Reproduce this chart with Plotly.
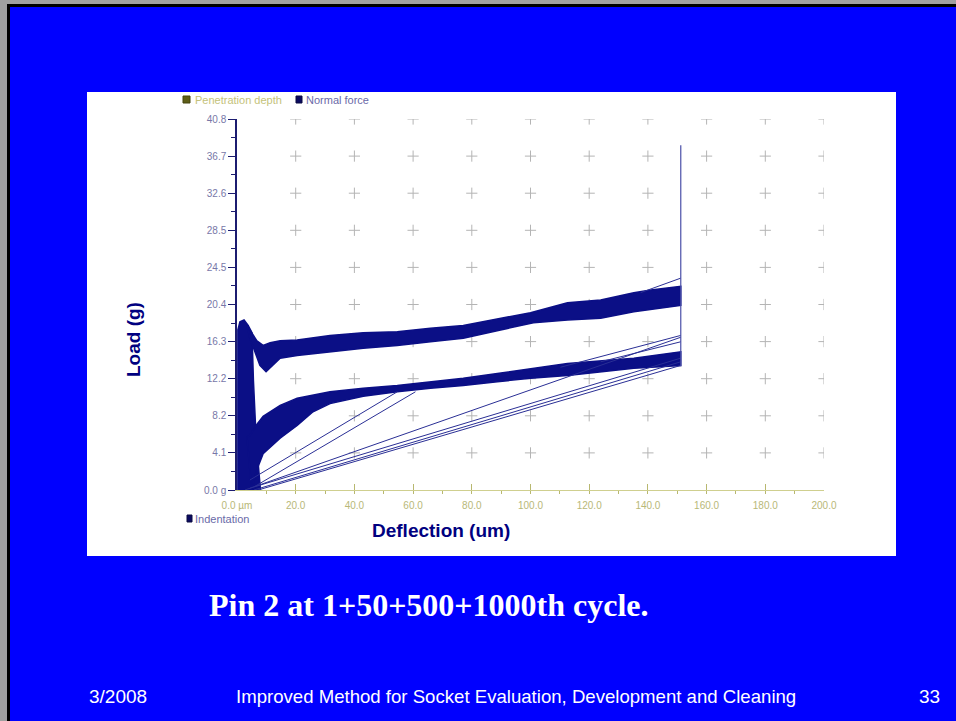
import plotly.graph_objects as go

# ---------------- data ----------------
x_tick_vals = [0, 20, 40, 60, 80, 100, 120, 140, 160, 180, 200]
x_tick_text = ["0.0 µm", "20.0", "40.0", "60.0", "80.0", "100.0", "120.0", "140.0", "160.0", "180.0", "200.0"]
y_tick_vals = [0, 4.08, 8.16, 12.24, 16.32, 20.4, 24.48, 28.56, 32.64, 36.72, 40.8]
y_tick_text = ["0.0 g", "4.1", "8.2", "12.2", "16.3", "20.4", "24.5", "28.5", "32.6", "36.7", "40.8"]

grid_x = [20, 40, 60, 80, 100, 120, 140, 160, 180, 200]
grid_y = [4.08, 8.16, 12.24, 16.32, 20.4, 24.48, 28.56, 32.64, 36.72, 40.8]

# initial contact column (dense vertical strokes near zero deflection)
contact_x = [0.3, 0.3, 1.0, 2.4, 3.8, 5.1, 5.6, 6.4, 7.2, 8.0]
contact_y = [0.0, 17.6, 18.5, 18.7, 18.1, 17.3, 12.0, 6.5, 3.0, 0.0]

# upper (loading) band: top and bottom envelopes
upper_top_x = [3.4, 5.1, 6.8, 8.9, 11.3, 14.7, 20.5, 31.7, 43.0, 54.6, 65.9, 77.1, 88.7, 100.0, 112.6, 123.9, 135.2, 141.0, 151.2]
upper_top_y = [18.1, 17.3, 16.4, 15.9, 16.2, 16.4, 16.5, 17.0, 17.3, 17.4, 17.8, 18.1, 18.8, 19.5, 20.6, 20.9, 21.7, 22.0, 22.4]
upper_bot_x = [151.2, 135.2, 123.9, 112.6, 101.0, 89.8, 77.1, 65.9, 54.6, 43.0, 31.7, 20.5, 14.7, 11.3, 9.9, 7.8, 5.8, 4.4]
upper_bot_y = [20.3, 19.6, 18.9, 18.7, 18.4, 17.6, 16.7, 16.3, 15.9, 15.6, 15.2, 14.8, 14.5, 13.4, 13.0, 13.7, 15.4, 16.7]

# middle (unloading) band
mid_top_x = [3.4, 4.4, 6.5, 8.9, 14.7, 20.5, 31.7, 43.0, 54.6, 65.9, 77.1, 88.7, 100.0, 112.6, 135.2, 151.2]
mid_top_y = [5.8, 6.0, 7.1, 8.1, 9.3, 10.1, 10.8, 11.2, 11.5, 11.9, 12.3, 12.8, 13.3, 13.9, 14.5, 15.2]
mid_bot_x = [151.2, 135.2, 112.6, 100.0, 88.7, 77.1, 65.9, 54.6, 43.0, 31.7, 25.9, 20.5, 14.7, 8.9, 6.5, 5.0]
mid_bot_y = [13.7, 13.4, 12.6, 12.3, 11.9, 11.5, 11.2, 10.8, 10.3, 9.5, 8.6, 7.1, 5.7, 4.0, 2.0, 0.0]

# single straight strokes (start x, start y, end x, end y)
stroke_x0 = [4.4, 6.1, 2.7, 4.4, 5.8, 7.2, 110.2, 123.9, 137.5]
stroke_y0 = [1.1, 0.4, 0.0, 0.2, 0.0, 0.0, 13.5, 14.1, 21.7]
stroke_x1 = [54.6, 60.8, 151.2, 151.2, 151.2, 151.2, 151.2, 151.2, 151.2]
stroke_y1 = [10.8, 10.8, 16.8, 14.5, 14.1, 13.7, 17.0, 16.3, 23.3]

# vertical release line at end of stroke
release_x = [151.2, 151.2]
release_y = [13.6, 37.9]

# ---------------- layout geometry ----------------
L, R, T, B = 237, 824, 119, 490
W, H = 956, 721
PW, PH = R - L, B - T


def fx(px):
    return (px - L) / PW


def fy(py):
    return (B - py) / PH


NAVY = "#0b0f86"
fig = go.Figure()

# grid crosses
gx, gy = [], []
for xv in grid_x:
    for yv in grid_y:
        gx.append(xv)
        gy.append(yv)
fig.add_trace(go.Scatter(x=gx, y=gy, mode="markers",
                         marker=dict(symbol="cross-thin", size=8,
                                     line=dict(color="#b4b4b4", width=1)),
                         hoverinfo="skip", showlegend=False))

fill_kw = dict(mode="lines", fill="toself", fillcolor=NAVY,
               line=dict(color=NAVY, width=1.5), showlegend=False, hoverinfo="skip")
fig.add_trace(go.Scatter(x=contact_x + [contact_x[0]], y=contact_y + [contact_y[0]], **fill_kw))
fig.add_trace(go.Scatter(x=upper_top_x + upper_bot_x + [upper_top_x[0]],
                         y=upper_top_y + upper_bot_y + [upper_top_y[0]], **fill_kw))
fig.add_trace(go.Scatter(x=mid_top_x + mid_bot_x + [mid_top_x[0]],
                         y=mid_top_y + mid_bot_y + [mid_top_y[0]], **fill_kw))

for a, b, c, d in zip(stroke_x0, stroke_y0, stroke_x1, stroke_y1):
    fig.add_trace(go.Scatter(x=[a, c], y=[b, d], mode="lines",
                             line=dict(color="#2a2f95", width=1),
                             showlegend=False, hoverinfo="skip"))

fig.add_trace(go.Scatter(x=release_x, y=release_y, mode="lines",
                         line=dict(color="#4a4fa8", width=1.2),
                         showlegend=False, hoverinfo="skip"))

shapes = [
    # white chart panel
    dict(type="rect", xref="paper", yref="paper", layer="below",
         x0=fx(87), x1=fx(896), y0=fy(556), y1=fy(92),
         fillcolor="white", line=dict(width=0)),
    # slide frame (top/left)
    dict(type="rect", xref="paper", yref="paper", layer="above",
         x0=fx(0), x1=fx(956), y0=fy(4), y1=fy(0),
         fillcolor="#a0a0a0", line=dict(width=0)),
    dict(type="rect", xref="paper", yref="paper", layer="above",
         x0=fx(7), x1=fx(956), y0=fy(7), y1=fy(4),
         fillcolor="black", line=dict(width=0)),
    dict(type="rect", xref="paper", yref="paper", layer="above",
         x0=fx(0), x1=fx(7), y0=fy(721), y1=fy(0),
         fillcolor="#a0a0a0", line=dict(width=0)),
    dict(type="rect", xref="paper", yref="paper", layer="above",
         x0=fx(7), x1=fx(10), y0=fy(721), y1=fy(4),
         fillcolor="black", line=dict(width=0)),
    # legend swatches
    dict(type="rect", xref="paper", yref="paper",
         x0=fx(183), x1=fx(190), y0=fy(103), y1=fy(96),
         fillcolor="#5e5e18", line=dict(color="#44440f", width=1)),
    dict(type="rect", xref="paper", yref="paper",
         x0=fx(296), x1=fx(302), y0=fy(103), y1=fy(96),
         fillcolor="#0a0a60", line=dict(color="#0a0a40", width=1)),
    dict(type="rect", xref="paper", yref="paper",
         x0=fx(187), x1=fx(192), y0=fy(522), y1=fy(515),
         fillcolor="#0a0a60", line=dict(color="#0a0a40", width=1)),
]

ann = []
def add_text(text, px, py, size, color, xanchor="left", family="Liberation Sans, Arial, sans-serif",
             bold=False, angle=0):
    ann.append(dict(text=("<b>%s</b>" % text) if bold else text, xref="paper", yref="paper",
                    x=fx(px), y=fy(py), xanchor=xanchor, yanchor="middle",
                    showarrow=False, textangle=angle,
                    font=dict(size=size, color=color, family=family)))

add_text("Penetration depth", 193, 100, 11, "#c4c27a")
add_text("Normal force", 304, 100, 11, "#6a6aa8")
add_text("Indentation", 193, 519, 11, "#6a6aa8")
add_text("Load (g)", 133, 340, 19, "#000080", xanchor="center", bold=True, angle=-90)
add_text("Deflection (um)", 441, 530, 19, "#000080", xanchor="center", bold=True)
add_text("Pin 2 at 1+50+500+1000th cycle.", 429, 605, 32, "white", xanchor="center", bold=True,
         family="Liberation Serif, Times New Roman, serif")
add_text("3/2008", 87, 697, 19, "white")
add_text("Improved Method for Socket Evaluation, Development and Cleaning", 234, 697, 18.6, "white")
add_text("33", 942, 697, 19, "white", xanchor="right")

fig.update_layout(
    width=W, height=H,
    margin=dict(l=L, r=W - R, t=T, b=H - B, pad=0),
    paper_bgcolor="#0000ff", plot_bgcolor="white",
    showlegend=False, shapes=shapes, annotations=ann,
    xaxis=dict(range=[0, 200], tickvals=x_tick_vals, ticktext=x_tick_text,
               showgrid=False, zeroline=False, showline=True, linecolor="#cfcf8f", linewidth=1,
               ticks="inside", ticklen=6, tickcolor="#b8b870", tickwidth=1,
               minor=dict(dtick=10, tick0=0, ticks="outside", ticklen=3, tickcolor="#b8b870"),
               tickfont=dict(size=10, color="#b8b878", family="Liberation Sans, Arial, sans-serif"),
               ticklabelstandoff=6, fixedrange=True),
    yaxis=dict(range=[0, 40.8], tickvals=y_tick_vals, ticktext=y_tick_text,
               showgrid=False, zeroline=False, showline=True, linecolor="#1c1c70", linewidth=1.5,
               ticks="outside", ticklen=7, tickcolor="#1c1c70", tickwidth=1,
               minor=dict(dtick=2.04, tick0=0, ticks="outside", ticklen=4, tickcolor="#1c1c70"),
               tickfont=dict(size=10, color="#7878a8", family="Liberation Sans, Arial, sans-serif"),
               fixedrange=True),
)

fig.write_html("out.html", config={"displayModeBar": False},
               post_script="document.body.style.margin='0';document.body.style.overflow='hidden';")
